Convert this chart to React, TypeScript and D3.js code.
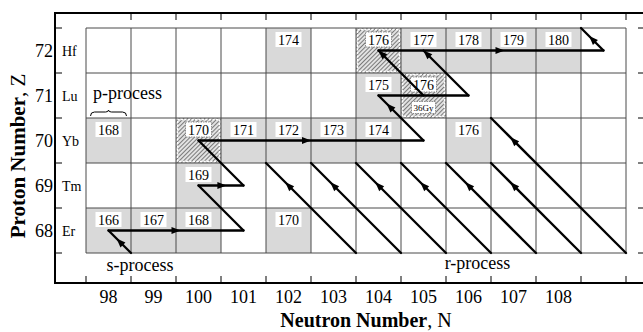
import React, { useEffect, useRef } from "react";
import * as d3 from "d3";

// axis values
const neutronLabels = [98, 99, 100, 101, 102, 103, 104, 105, 106, 107, 108];
const protonLabels = [72, 71, 70, 69, 68];
const elementSymbols = ["Hf", "Lu", "Yb", "Tm", "Er"];

// marked isotopes: [N, Z, kind]  g = stable (grey), h = hatched
const isotopes: [number, number, string][] = [
  [102, 72, "g"], [104, 72, "h"], [105, 72, "g"], [106, 72, "g"], [107, 72, "g"], [108, 72, "g"],
  [104, 71, "g"], [105, 71, "h"],
  [98, 70, "g"], [100, 70, "h"], [101, 70, "g"], [102, 70, "g"], [103, 70, "g"], [104, 70, "g"], [106, 70, "g"],
  [100, 69, "g"],
  [98, 68, "g"], [99, 68, "g"], [100, 68, "g"], [102, 68, "g"],
];

// s-process path: [N1, Z1, N2, Z2, arrow position (0 = none)]
const sProcess: [number, number, number, number, number][] = [
  [98.5, 67.5, 98, 68, 0.5],
  [98, 68, 101, 68, 0.5],
  [101, 68, 100, 69, 0],
  [100, 69, 101, 69, 0.52],
  [101, 69, 100, 70, 0],
  [100, 70, 105, 70, 0.48],
  [105, 70, 104, 71, 0.75],
  [104, 71, 106, 71, 0],
  [106, 71, 105, 72, 0.93],
  [105, 71, 104, 72, 0.93],
  [104, 72, 109, 72, 0.54],
  [109, 72, 108.5, 72.5, 0.5],
];

// r-process isobars (mass number) and the Z where each decay line stops
const rIsobars = [171, 172, 173, 174, 175, 176, 177];
const rTopZ = [69.5, 69.5, 69.5, 69.5, 69.5, 69.5, 70.5];

const FONT = "'Liberation Serif', 'Times New Roman', serif";

export default function App() {
  const ref = useRef<SVGSVGElement>(null);

  useEffect(() => {
    const width = 643;
    const height = 332;
    const frame = { left: 55, top: 13, right: 645, bottom: 283 };

    const svg = d3.select(ref.current).attr("width", width).attr("height", height);
    svg.selectAll("*").remove();

    const x = d3.scaleLinear().domain([97.5, 109.5]).range([86, 626]);
    const y = d3.scaleLinear().domain([67.5, 72.5]).range([253, 28]);
    const cw = x(1) - x(0);
    const ch = y(0) - y(1);

    const defs = svg.append("defs");
    const pat = defs.append("pattern")
      .attr("id", "hatch")
      .attr("patternUnits", "userSpaceOnUse")
      .attr("width", 3)
      .attr("height", 3)
      .attr("patternTransform", "rotate(45)");
    pat.append("rect").attr("width", 3).attr("height", 3).attr("fill", "#e2e2e2");
    pat.append("line").attr("x1", 0).attr("y1", 0).attr("x2", 0).attr("y2", 3)
      .attr("stroke", "#333").attr("stroke-width", 1.2);

    svg.append("rect").attr("width", width).attr("height", height).attr("fill", "#fff");

    // cells
    const cells = svg.append("g");
    isotopes.forEach(([n, z, kind]) => {
      cells.append("rect")
        .attr("x", x(n - 0.5)).attr("y", y(z + 0.5))
        .attr("width", cw).attr("height", ch)
        .attr("fill", kind === "h" ? "url(#hatch)" : "#d9d9d9");
      if (kind === "h") {
        cells.append("rect")
          .attr("x", x(n - 0.5) + 1.5).attr("y", y(z + 0.5) + 1.5)
          .attr("width", cw - 3).attr("height", ch - 3)
          .attr("fill", "none").attr("stroke", "#fff")
          .attr("stroke-width", 1.5).attr("stroke-dasharray", "2,1.5");
      }
    });

    // grid
    const grid = svg.append("g").attr("stroke", "#4a4a4a").attr("stroke-width", 1);
    d3.range(97.5, 110, 1).forEach((n) => {
      grid.append("line").attr("x1", x(n)).attr("x2", x(n)).attr("y1", y(72.5)).attr("y2", y(67.5));
    });
    d3.range(67.5, 73, 1).forEach((z) => {
      grid.append("line").attr("x1", x(97.5)).attr("x2", x(109.5)).attr("y1", y(z)).attr("y2", y(z));
    });

    // frame and ticks
    const axes = svg.append("g").attr("stroke", "#000");
    axes.append("rect")
      .attr("x", frame.left).attr("y", frame.top)
      .attr("width", frame.right - frame.left).attr("height", frame.bottom - frame.top)
      .attr("fill", "none").attr("stroke-width", 2);
    d3.range(97.5, 110, 1).forEach((n) => {
      axes.append("line").attr("x1", x(n)).attr("x2", x(n))
        .attr("y1", frame.bottom).attr("y2", frame.bottom - 7).attr("stroke-width", 1);
      if (n > 98) {
        axes.append("line").attr("x1", x(n)).attr("x2", x(n))
          .attr("y1", frame.top).attr("y2", frame.top + 7).attr("stroke-width", 1);
      }
    });
    d3.range(67.5, 73, 1).forEach((z) => {
      axes.append("line").attr("x1", frame.left).attr("x2", frame.left + 7)
        .attr("y1", y(z)).attr("y2", y(z)).attr("stroke-width", 1);
      axes.append("line").attr("x1", frame.right).attr("x2", frame.right - 7)
        .attr("y1", y(z)).attr("y2", y(z)).attr("stroke-width", 1);
    });

    // tick labels
    svg.append("g").selectAll("text")
      .data(neutronLabels)
      .join("text")
      .attr("x", (d) => x(d))
      .attr("y", 303)
      .attr("text-anchor", "middle")
      .attr("font-family", FONT)
      .attr("font-size", 18)
      .text((d) => d);

    svg.append("g").selectAll("text")
      .data(protonLabels)
      .join("text")
      .attr("x", 53)
      .attr("y", (d) => y(d) + 6)
      .attr("text-anchor", "end")
      .attr("font-family", FONT)
      .attr("font-size", 18)
      .text((d) => d);

    svg.append("g").selectAll("text")
      .data(elementSymbols)
      .join("text")
      .attr("x", 62)
      .attr("y", (d, i) => y(protonLabels[i]) + 5)
      .attr("font-family", FONT)
      .attr("font-size", 14)
      .text((d) => d);

    // isotope mass labels
    const labels = svg.append("g");
    isotopes.forEach(([n, z, kind]) => {
      const cx = x(n);
      const top = y(z + 0.5);
      labels.append("rect")
        .attr("x", cx - 13).attr("y", top + 4)
        .attr("width", 26).attr("height", 15)
        .attr("fill", "#fff")
        .attr("stroke", kind === "h" ? "#777" : "none")
        .attr("stroke-width", 0.8)
        .attr("stroke-dasharray", "1.5,1");
      labels.append("text")
        .attr("x", cx).attr("y", top + 16.5)
        .attr("text-anchor", "middle")
        .attr("font-family", FONT)
        .attr("font-size", 14)
        .text(n + z);
    });

    // half-life note under Lu-176
    labels.append("rect")
      .attr("x", x(105) - 12).attr("y", y(71) + 6)
      .attr("width", 24).attr("height", 12)
      .attr("fill", "#fff").attr("stroke", "#777").attr("stroke-width", 0.8)
      .attr("stroke-dasharray", "1.5,1");
    labels.append("text")
      .attr("x", x(105)).attr("y", y(71) + 15)
      .attr("text-anchor", "middle")
      .attr("font-family", FONT)
      .attr("font-size", 9)
      .text("36Gy");

    // arrows
    const arrows = svg.append("g");
    const drawArrow = (n1: number, z1: number, n2: number, z2: number, frac: number) => {
      const x1 = x(n1), y1 = y(z1), x2 = x(n2), y2 = y(z2);
      arrows.append("line")
        .attr("x1", x1).attr("y1", y1).attr("x2", x2).attr("y2", y2)
        .attr("stroke", "#000").attr("stroke-width", 2.3).attr("stroke-linecap", "round");
      if (frac > 0) {
        const len = Math.hypot(x2 - x1, y2 - y1);
        const ux = (x2 - x1) / len, uy = (y2 - y1) / len;
        const px = x1 + (x2 - x1) * frac, py = y1 + (y2 - y1) * frac;
        const tip: [number, number] = [px + ux * 4.5, py + uy * 4.5];
        const bx = px - ux * 4.5, by = py - uy * 4.5;
        const pts = [tip, [bx - uy * 3.5, by + ux * 3.5], [bx + uy * 3.5, by - ux * 3.5]];
        arrows.append("polygon")
          .attr("points", pts.map((p) => p.join(",")).join(" "))
          .attr("fill", "#000");
      }
    };

    sProcess.forEach(([n1, z1, n2, z2, f]) => drawArrow(n1, z1, n2, z2, f));

    rIsobars.forEach((a, i) => {
      const zTop = rTopZ[i];
      const zBot = 67.5;
      const frac = (zTop - 0.5 - zBot) / (zTop - zBot);
      drawArrow(a - zBot, zBot, a - zTop, zTop, frac);
    });

    // process annotations
    svg.append("text")
      .attr("x", x(97.5) + 7).attr("y", y(71) + 3)
      .attr("font-family", FONT).attr("font-size", 18)
      .text("p-process");

    const bx1 = x(97.6), bx2 = x(98.4), bm = x(98), by = y(70.5) - 6;
    svg.append("path")
      .attr("d", `M${bx1},${by + 4} Q${bx1},${by} ${bx1 + 4},${by} L${bm - 3},${by} Q${bm},${by} ${bm},${by - 2} Q${bm},${by} ${bm + 3},${by} L${bx2 - 4},${by} Q${bx2},${by} ${bx2},${by + 4}`)
      .attr("fill", "none").attr("stroke", "#000").attr("stroke-width", 1);

    svg.append("text")
      .attr("x", x(98.7)).attr("y", y(67.5) + 18)
      .attr("text-anchor", "middle")
      .attr("font-family", FONT).attr("font-size", 18)
      .text("s-process");

    svg.append("text")
      .attr("x", x(106.2)).attr("y", y(67.5) + 16)
      .attr("text-anchor", "middle")
      .attr("font-family", FONT).attr("font-size", 18)
      .text("r-process");

    // axis titles
    const xt = svg.append("text")
      .attr("x", 366).attr("y", 327)
      .attr("text-anchor", "middle")
      .attr("font-family", FONT).attr("font-size", 20);
    xt.append("tspan").attr("font-weight", "bold").text("Neutron Number");
    xt.append("tspan").text(", N");

    const yt = svg.append("text")
      .attr("transform", `translate(25, 156) rotate(-90)`)
      .attr("text-anchor", "middle")
      .attr("font-family", FONT).attr("font-size", 21);
    yt.append("tspan").attr("font-weight", "bold").text("Proton Number");
    yt.append("tspan").text(", Z");
  }, []);

  return <svg ref={ref} style={{ position: "absolute", left: 0, top: 0 }} />;
}
